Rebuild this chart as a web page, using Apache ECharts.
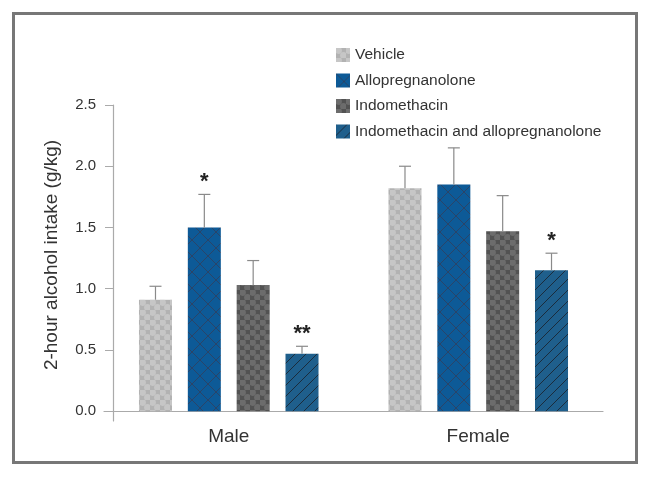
<!DOCTYPE html>
<html>
<head>
<meta charset="utf-8">
<script src="https://cdn.jsdelivr.net/npm/echarts@6/dist/echarts.min.js"></script>
<style>
html,body{margin:0;padding:0;background:#fff;}
#chart{position:absolute;left:0;top:0;width:650px;height:477px;}
#frame{position:absolute;left:12px;top:12px;width:620px;height:446px;border:3px solid #777;pointer-events:none;}
</style>
</head>
<body>
<div id="chart"></div>
<div id="frame"></div>
<script>
// ---- data ----
const categories = ['Male', 'Female'];
const seriesNames = ['Vehicle', 'Allopregnanolone', 'Indomethacin', 'Indomethacin and allopregnanolone'];
const vehicle    = [0.91, 1.82];
const vehicleErr = [1.02, 2.00];
const allo       = [1.50, 1.85];
const alloErr    = [1.77, 2.15];
const indo       = [1.03, 1.47];
const indoErr    = [1.23, 1.76];
const combo      = [0.47, 1.15];
const comboErr   = [0.53, 1.29];
const vehicleSig = ['', ''];
const alloSig    = ['*', ''];
const indoSig    = ['', ''];
const comboSig   = ['**', '*'];
const yTicks = [0, 0.5, 1.0, 1.5, 2.0, 2.5];

// ---- patterns ----
function makePattern(kind, bg, fg) {
  const c = document.createElement('canvas');
  let s;
  if (kind === 'dots') s = 10;
  else if (kind === 'cross') s = 16;
  else s = 11;
  c.width = s; c.height = s;
  const g = c.getContext('2d');
  g.fillStyle = bg; g.fillRect(0, 0, s, s);
  if (kind === 'dots') {
    g.fillStyle = fg;
    const pts = [[2.5, 2.5], [7.5, 7.5], [-2.5, -2.5], [12.5, -2.5], [-2.5, 12.5], [12.5, 12.5]];
    pts.forEach(p => { g.beginPath(); g.arc(p[0], p[1], 3.4, 0, Math.PI * 2); g.fill(); });
  } else if (kind === 'cross') {
    g.strokeStyle = fg; g.lineWidth = 1;
    g.beginPath(); g.moveTo(0, 0); g.lineTo(s, s); g.stroke();
    g.beginPath(); g.moveTo(s, 0); g.lineTo(0, s); g.stroke();
  } else {
    g.strokeStyle = fg; g.lineWidth = 1;
    g.beginPath(); g.moveTo(0, s); g.lineTo(s, 0); g.stroke();
    g.beginPath(); g.moveTo(-1, 1); g.lineTo(1, -1); g.stroke();
    g.beginPath(); g.moveTo(s - 1, s + 1); g.lineTo(s + 1, s - 1); g.stroke();
  }
  return { image: c, repeat: 'repeat' };
}
const fills = [
  makePattern('dots', '#b2b2b2', '#c6c6c6'),
  makePattern('cross', '#0d5a97', '#2a4468'),
  makePattern('dots', '#525252', '#6c6c6c'),
  makePattern('lines', '#1f5f8c', '#1b2c3c')
];

const means = [vehicle, allo, indo, combo];
const errs = [vehicleErr, alloErr, indoErr, comboErr];
const sigs = [vehicleSig, alloSig, indoSig, comboSig];

const BAR_W = 33;
const BAR_GAP = 0.48;
const errRows = [];
means.forEach((arr, s) => {
  arr.forEach((v, c) => errRows.push([c, s, v, errs[s][c], sigs[s][c]]));
});

const FONT = '"Liberation Sans", Arial, Helvetica, sans-serif';

const series = seriesNames.map((name, s) => ({
  name: name,
  type: 'bar',
  data: means[s],
  barWidth: BAR_W,
  barGap: (BAR_GAP * 100) + '%',
  itemStyle: { color: fills[s] },
  z: 2
}));

series.push({
  type: 'custom',
  name: 'err',
  data: errRows.map(r => [r[0], r[2], r[3]]),
  encode: { x: 0, y: 1 },
  z: 3,
  renderItem: function (params, api) {
    const row = errRows[params.dataIndex];
    const s = row[1];
    const step = BAR_W * (1 + BAR_GAP);
    const off = (s - 1.5) * step;
    const base = api.coord([row[0], row[2]]);
    const top = api.coord([row[0], row[3]]);
    const x = base[0] + off;
    const children = [
      { type: 'line', shape: { x1: x, y1: base[1], x2: x, y2: top[1] }, style: { stroke: '#8a8a8a', lineWidth: 1.2 } },
      { type: 'line', shape: { x1: x - 6, y1: top[1], x2: x + 6, y2: top[1] }, style: { stroke: '#8a8a8a', lineWidth: 1.2 } }
    ];
    if (row[4]) {
      children.push({
        type: 'text',
        style: { text: row[4], x: x, y: top[1] - 1, textAlign: 'center', textVerticalAlign: 'bottom',
                 font: 'bold 22px ' + FONT, fill: '#222' }
      });
    }
    return { type: 'group', children: children };
  }
});

const chart = echarts.init(document.getElementById('chart'), null, { renderer: 'canvas' });
chart.setOption({
  backgroundColor: '#ffffff',
  animation: false,
  legend: {
    data: seriesNames,
    orient: 'vertical',
    left: 331,
    top: 42,
    itemWidth: 14,
    itemHeight: 14,
    itemGap: 9.5,
    icon: 'rect',
    textStyle: { fontFamily: FONT, fontSize: 15.5, color: '#333' }
  },
  grid: { left: 104, right: 47, top: 105, bottom: 56, containLabel: false },
  xAxis: {
    type: 'category',
    data: categories,
    axisLine: { onZero: true, lineStyle: { color: '#aaaaaa', width: 1.2 } },
    axisTick: { show: false },
    axisLabel: { fontFamily: FONT, fontSize: 19, color: '#333', margin: 6 }
  },
  yAxis: {
    type: 'value',
    min: -0.08,
    max: 2.5,
    offset: -9,
    name: '2-hour alcohol intake (g/kg)',
    nameLocation: 'middle',
    nameGap: 52,
    nameTextStyle: { fontFamily: FONT, fontSize: 19, color: '#333', padding: [0, 0, 0, 16] },
    axisLine: { show: true, lineStyle: { color: '#aaaaaa', width: 1.2 } },
    axisTick: { show: true, length: 8, customValues: yTicks, lineStyle: { color: '#aaaaaa' } },
    axisLabel: { customValues: yTicks, formatter: v => v.toFixed(1), fontFamily: FONT, fontSize: 15, color: '#333', margin: 17 },
    splitLine: { show: false }
  },
  series: series
});
</script>
</body>
</html>
